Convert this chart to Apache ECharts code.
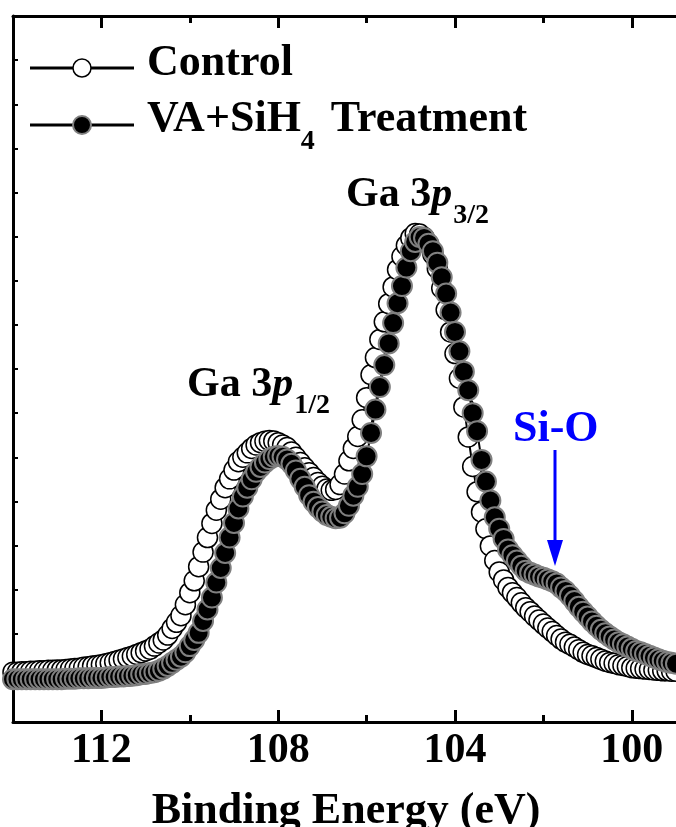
<!DOCTYPE html>
<html><head><meta charset="utf-8">
<script src="https://cdn.jsdelivr.net/npm/echarts@6/dist/echarts.min.js"></script>
<style>html,body{margin:0;padding:0;background:#fff}#c{width:676px;height:827px}</style>
</head><body><div id="c"></div>
<script>
// Binding energy (eV), sampled every 0.1 eV from 114.0 down to 99.0
const energy = [
 114.0,113.9,113.8,113.7,113.6,113.5,113.4,113.3,113.2,113.1,
 113.0,112.9,112.8,112.7,112.6,112.5,112.4,112.3,112.2,112.1,
 112.0,111.9,111.8,111.7,111.6,111.5,111.4,111.3,111.2,111.1,
 111.0,110.9,110.8,110.7,110.6,110.5,110.4,110.3,110.2,110.1,
 110.0,109.9,109.8,109.7,109.6,109.5,109.4,109.3,109.2,109.1,
 109.0,108.9,108.8,108.7,108.6,108.5,108.4,108.3,108.2,108.1,
 108.0,107.9,107.8,107.7,107.6,107.5,107.4,107.3,107.2,107.1,
 107.0,106.9,106.8,106.7,106.6,106.5,106.4,106.3,106.2,106.1,
 106.0,105.9,105.8,105.7,105.6,105.5,105.4,105.3,105.2,105.1,
 105.0,104.9,104.8,104.7,104.6,104.5,104.4,104.3,104.2,104.1,
 104.0,103.9,103.8,103.7,103.6,103.5,103.4,103.3,103.2,103.1,
 103.0,102.9,102.8,102.7,102.6,102.5,102.4,102.3,102.2,102.1,
 102.0,101.9,101.8,101.7,101.6,101.5,101.4,101.3,101.2,101.1,
 101.0,100.9,100.8,100.7,100.6,100.5,100.4,100.3,100.2,100.1,
 100.0,99.9,99.8,99.7,99.6,99.5,99.4,99.3,99.2,99.1,
 99.0
];
// Intensity (a.u.)
const control = [
 1.13,1.13,1.14,1.14,1.15,1.15,1.16,1.16,1.17,1.17,
 1.18,1.18,1.19,1.20,1.21,1.22,1.24,1.25,1.27,1.28,
 1.30,1.32,1.34,1.37,1.40,1.43,1.46,1.49,1.53,1.57,
 1.61,1.65,1.72,1.79,1.86,1.97,2.12,2.26,2.41,2.66,
 2.93,3.20,3.52,3.85,4.18,4.50,4.80,5.05,5.31,5.51,
 5.71,5.90,6.00,6.10,6.20,6.28,6.33,6.36,6.38,6.37,
 6.33,6.28,6.22,6.12,6.00,5.88,5.76,5.65,5.54,5.43,
 5.34,5.28,5.25,5.27,5.38,5.62,5.92,6.20,6.47,6.85,
 7.35,7.87,8.26,8.67,9.07,9.48,9.86,10.25,10.55,10.80,
 10.97,11.07,11.06,10.98,10.83,10.60,10.28,9.83,9.34,8.84,
 8.35,7.79,7.14,6.46,5.79,5.22,4.76,4.38,3.99,3.66,
 3.40,3.22,3.05,2.93,2.82,2.70,2.59,2.50,2.40,2.31,
 2.22,2.13,2.05,1.96,1.88,1.81,1.76,1.70,1.64,1.58,
 1.53,1.50,1.46,1.42,1.38,1.35,1.33,1.30,1.28,1.26,
 1.23,1.22,1.21,1.20,1.19,1.18,1.17,1.16,1.16,1.15,
 1.15
];
const treatment = [
 0.97,0.97,0.97,0.97,0.97,0.97,0.97,0.97,0.97,0.97,
 0.97,0.97,0.98,0.98,0.98,0.99,0.99,0.99,1.00,1.00,
 1.00,1.01,1.02,1.02,1.03,1.03,1.04,1.05,1.06,1.08,
 1.09,1.11,1.13,1.16,1.21,1.27,1.34,1.41,1.48,1.58,
 1.72,1.86,2.02,2.29,2.55,2.82,3.16,3.49,3.83,4.18,
 4.51,4.84,5.11,5.31,5.50,5.67,5.78,5.88,5.96,6.01,
 6.03,6.01,5.95,5.85,5.70,5.51,5.33,5.14,4.99,4.87,
 4.77,4.69,4.65,4.62,4.63,4.73,4.90,5.13,5.33,5.62,
 6.02,6.55,7.08,7.59,8.09,8.58,9.04,9.49,9.88,10.30,
 10.67,10.88,10.99,10.97,10.84,10.67,10.41,10.08,9.71,9.28,
 8.84,8.40,7.94,7.52,7.00,6.59,5.94,5.45,5.02,4.64,
 4.38,4.15,3.91,3.78,3.66,3.54,3.43,3.38,3.34,3.30,
 3.27,3.23,3.19,3.14,3.05,2.97,2.86,2.74,2.61,2.50,
 2.39,2.28,2.18,2.09,2.01,1.94,1.87,1.81,1.76,1.71,
 1.66,1.61,1.58,1.54,1.50,1.46,1.42,1.39,1.36,1.34,
 1.32
];
const majorTicks = [100, 104, 108, 112];
const minorTicks = [102, 106, 110];
const seriesNames = ['Control', 'VA+SiH4 Treatment'];

const FONT = '"Liberation Serif", "Times New Roman", serif';
const chart = echarts.init(document.getElementById('c'), null, {renderer: 'canvas'});

const gridBox = {left: 13, right: -7, top: 16, bottom: 105};
function xAx(gridIndex, pos, ticks, len, showLine, showLabel) {
  return {
    type: 'value', gridIndex, position: pos, min: 99, max: 114, inverse: true,
    axisLine: {show: showLine, onZero: false, lineStyle: {color: '#000', width: 3}},
    axisTick: {show: true, inside: true, customValues: ticks, length: len, lineStyle: {color: '#000', width: 3}},
    axisLabel: {show: showLabel, customValues: ticks, margin: 8, color: '#000', fontSize: 42, fontWeight: 'bold', fontFamily: FONT},
    splitLine: {show: false}, minorTick: {show: false}
  };
}

// text pieces laid out left to right, measured with canvas
const mctx = document.createElement('canvas').getContext('2d');
function pieces(x, cy, parts, color) {
  const out = [];
  let cx = x;
  parts.forEach(p => {
    const style = p.italic ? 'italic' : 'normal';
    mctx.font = style + ' bold ' + p.size + 'px ' + FONT;
    const w = mctx.measureText(p.t).width;
    out.push({type: 'text', x: cx, y: cy + (p.dy || 0), z: 12,
      style: {text: p.t, fontSize: p.size, fontWeight: 'bold', fontStyle: style, fontFamily: FONT,
              fill: color || '#000', align: 'left', verticalAlign: 'middle'}});
    cx += w + (p.gap || 0);
  });
  return out;
}

const option = {
  animation: false,
  backgroundColor: '#fff',
  grid: [Object.assign({}, gridBox), Object.assign({}, gridBox)],
  xAxis: [
    xAx(0, 'bottom', majorTicks, 12, true, true),
    xAx(0, 'top', majorTicks, 12, true, false),
    xAx(1, 'bottom', minorTicks, 7, false, false),
    xAx(1, 'top', minorTicks, 7, false, false)
  ],
  yAxis: [
    {type: 'value', gridIndex: 0, min: 0, max: 16, interval: 1,
     axisLine: {show: true, lineStyle: {color: '#000', width: 3}},
     axisTick: {show: true, inside: true, length: 5, lineStyle: {color: '#000', width: 2}},
     axisLabel: {show: false}, splitLine: {show: false}},
    {type: 'value', gridIndex: 1, min: 0, max: 16, show: false}
  ],
  series: [
    {name: seriesNames[0], type: 'line', xAxisIndex: 0, yAxisIndex: 0,
     data: energy.map((e, i) => [e, control[i]]),
     symbol: 'circle', symbolSize: 20, showSymbol: true, showAllSymbol: true,
     lineStyle: {color: '#000', width: 2},
     itemStyle: {color: '#fff', borderColor: '#000', borderWidth: 1.5}, z: 3},
    {name: seriesNames[1], type: 'line', xAxisIndex: 0, yAxisIndex: 0,
     data: energy.map((e, i) => [e, treatment[i]]),
     symbol: 'circle', symbolSize: 20, showSymbol: true, showAllSymbol: true,
     lineStyle: {color: '#000', width: 2},
     itemStyle: {color: '#000', borderColor: '#808080', borderWidth: 2}, z: 4}
  ],
  graphic: [
    // legend
    {type: 'line', shape: {x1: 30, y1: 68, x2: 134, y2: 68}, style: {stroke: '#000', lineWidth: 3}, z: 10},
    {type: 'circle', shape: {cx: 82, cy: 68, r: 9}, style: {fill: '#fff', stroke: '#000', lineWidth: 1.5}, z: 11},
    {type: 'line', shape: {x1: 30, y1: 125, x2: 134, y2: 125}, style: {stroke: '#000', lineWidth: 3}, z: 10},
    {type: 'circle', shape: {cx: 82, cy: 125, r: 9}, style: {fill: '#000', stroke: '#808080', lineWidth: 2}, z: 11}
  ].concat(
    pieces(147, 64, [{t: 'Control', size: 44}]),
    pieces(147, 120, [{t: 'VA+SiH', size: 44}, {t: '4', size: 28, dy: 22, gap: 16}, {t: 'Treatment', size: 44}]),
    pieces(346, 195, [{t: 'Ga 3', size: 42}, {t: 'p', size: 42, italic: true, gap: 1}, {t: '3/2', size: 28, dy: 21}]),
    pieces(187, 385, [{t: 'Ga 3', size: 42}, {t: 'p', size: 42, italic: true, gap: 1}, {t: '1/2', size: 28, dy: 21}]),
    pieces(513, 430, [{t: 'Si-O', size: 44}], '#0000ff'),
    [
      {type: 'line', shape: {x1: 555, y1: 450, x2: 555, y2: 545}, style: {stroke: '#0000ff', lineWidth: 3}, z: 11},
      {type: 'polygon', shape: {points: [[547, 540], [563, 540], [555, 566]]}, style: {fill: '#0000ff'}, z: 11},
      {type: 'text', x: 346, y: 812, z: 11,
       style: {text: 'Binding Energy (eV)', fontSize: 44, fontWeight: 'bold', fontFamily: FONT, fill: '#000', align: 'center', verticalAlign: 'middle'}}
    ]
  )
};
chart.setOption(option);
</script></body></html>
